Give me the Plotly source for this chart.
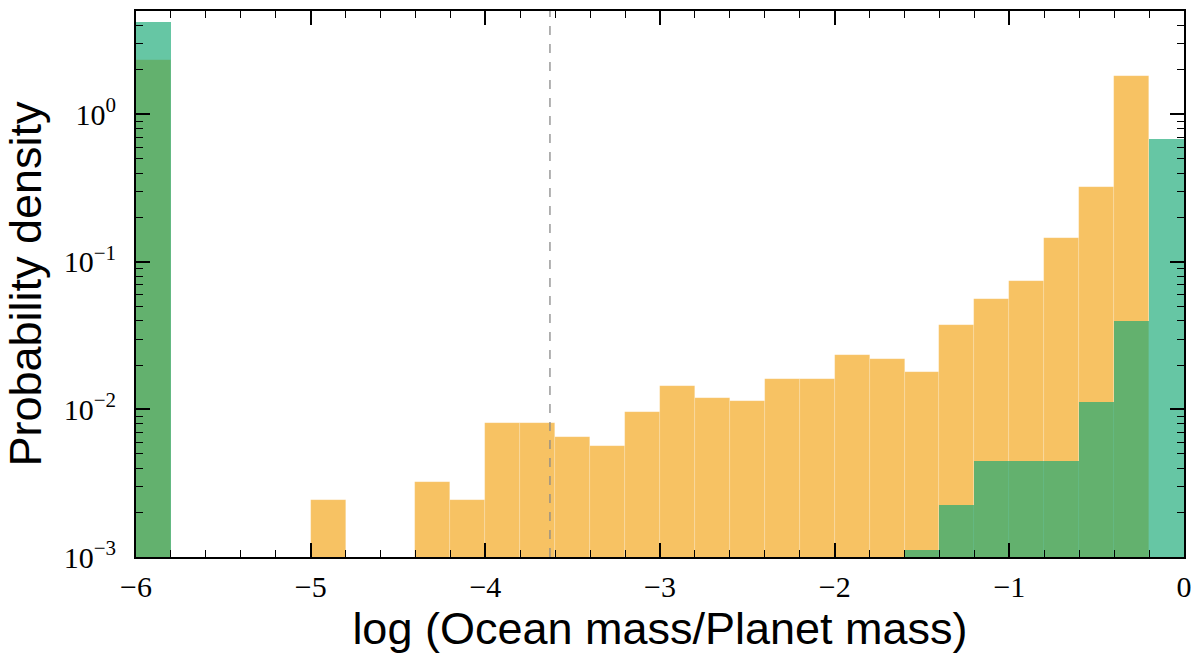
import plotly.graph_objects as go

# Histogram bins (width 0.2) – centers
bin_centers = [-5.9, -5.7, -5.5, -5.3, -5.1, -4.9, -4.7, -4.5, -4.3, -4.1,
               -3.9, -3.7, -3.5, -3.3, -3.1, -2.9, -2.7, -2.5, -2.3, -2.1,
               -1.9, -1.7, -1.5, -1.3, -1.1, -0.9, -0.7, -0.5, -0.3, -0.1]

orange_density = [2.34, None, None, None, None, 0.00245, None, None, 0.00324, 0.00244,
                  0.00806, 0.00806, 0.00648, 0.00566, 0.00968, 0.0145, 0.0120, 0.0114, 0.0161, 0.0161,
                  0.0235, 0.0219, 0.0180, 0.0373, 0.0557, 0.0738, 0.1445, 0.324, 1.82, None]

green_density = [4.23, None, None, None, None, None, None, None, None, None,
                 None, None, None, None, None, None, None, None, None, None,
                 None, None, 0.00111, 0.00225, 0.0045, 0.0045, 0.0045, 0.0112, 0.0399, 0.683]

earth_ocean_ratio = -3.63

x_ticks = [-6, -5, -4, -3, -2, -1, 0]
x_ticktext = ["\u22126", "\u22125", "\u22124", "\u22123", "\u22122", "\u22121", "0"]
x_minor = [-5.8, -5.6, -5.4, -5.2, -4.8, -4.6, -4.4, -4.2, -3.8, -3.6, -3.4, -3.2,
           -2.8, -2.6, -2.4, -2.2, -1.8, -1.6, -1.4, -1.2, -0.8, -0.6, -0.4, -0.2]
y_ticks = [1e-3, 1e-2, 1e-1, 1]
y_ticktext = ["10<sup>\u22123</sup>", "10<sup>\u22122</sup>", "10<sup>\u22121</sup>", "10<sup>0</sup>"]
y_minor = [m * d for d in [1e-3, 1e-2, 1e-1, 1] for m in [2, 3, 4, 5, 6, 7, 8, 9]]

fig = go.Figure()
fig.add_trace(go.Bar(x=bin_centers, y=orange_density, width=0.2,
                     marker=dict(color="rgb(247,194,99)",
                                 line=dict(color="rgba(255,255,255,0.25)", width=0.6)),
                     showlegend=False))
fig.add_trace(go.Bar(x=bin_centers, y=green_density, width=0.2,
                     marker=dict(color="rgba(21,168,116,0.655)", line=dict(width=0)),
                     showlegend=False))

fig.add_shape(type="line", xref="x", yref="paper", x0=earth_ocean_ratio, x1=earth_ocean_ratio,
              y0=0, y1=1, line=dict(color="#8a8a8a", width=1.3, dash="dash"), layer="above")

serif = "Liberation Serif, Times New Roman, serif"
sans = "Liberation Sans, Arial, sans-serif"

fig.update_layout(
    width=1195, height=662,
    margin=dict(l=136, r=11, t=11, b=105),
    paper_bgcolor="white", plot_bgcolor="white",
    barmode="overlay", bargap=0,
    xaxis=dict(range=[-6, 0], tickvals=x_ticks, ticktext=x_ticktext,
               ticks="inside", ticklen=14, tickwidth=1.8, tickcolor="black",
               minor=dict(tickvals=x_minor, ticks="inside", ticklen=7, tickwidth=1.3, tickcolor="black"),
               showline=True, linecolor="black", linewidth=2, mirror="allticks",
               showgrid=False, zeroline=False,
               tickfont=dict(family=serif, size=30, color="black"),
               ticklabelstandoff=2,
               title=dict(text="log (Ocean mass/Planet mass)",
                          font=dict(family=sans, size=45, color="black"), standoff=6),
               automargin=False),
    yaxis=dict(type="log", range=[-3, 0.70], tickvals=y_ticks, ticktext=y_ticktext,
               ticks="inside", ticklen=14, tickwidth=1.8, tickcolor="black",
               minor=dict(tickvals=y_minor, ticks="inside", ticklen=7, tickwidth=1.3, tickcolor="black"),
               showline=True, linecolor="black", linewidth=2, mirror="allticks",
               showgrid=False, zeroline=False,
               tickfont=dict(family=serif, size=30, color="black"),
               ticklabelstandoff=12,
               title=dict(text="Probability density",
                          font=dict(family=sans, size=45, color="black"), standoff=15),
               automargin=False),
)

fig.write_html("out.html", config={"displayModeBar": False},
               post_script="document.body.style.margin='0px';")
